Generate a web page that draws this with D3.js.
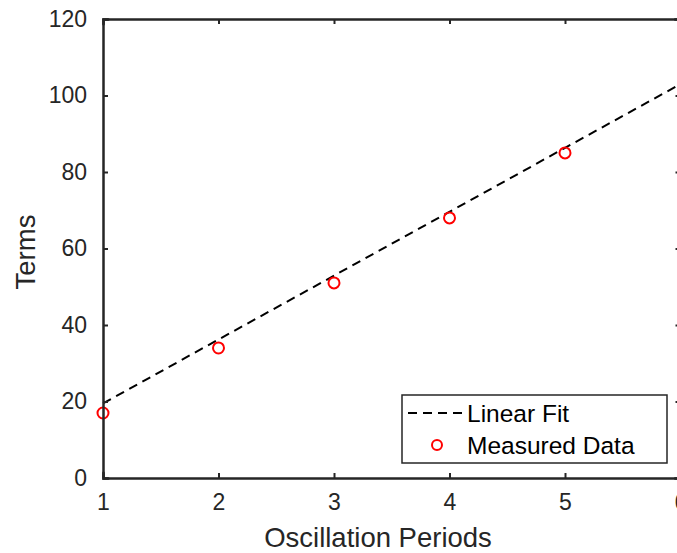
<!DOCTYPE html>
<html>
<head>
<meta charset="utf-8">
<script src="https://cdn.jsdelivr.net/npm/d3@7"></script>
<style>
  body { margin: 0; background: #fff; }
  text { font-family: "Liberation Sans", Arial, sans-serif; }
</style>
</head>
<body>
<svg id="chart" width="677" height="553"></svg>
<script>

// data
const periods = [ 1, 2, 3, 4, 5 ];
const terms = [ 17, 34, 51, 68, 85 ];
const fitX = [ 1, 6 ];
const fitY = [ 19.5, 103 ];
const xTicks = [ 1, 2, 3, 4, 5, 6 ];
const yTicks = [ 0, 20, 40, 60, 80, 100, 120 ];

const svg = d3.select( "#chart" );
const axisColor = "#262626";

const x = d3.scaleLinear().domain( [ 1, 6 ] ).range( [ 103, 680.5 ] );
const y = d3.scaleLinear().domain( [ 0, 120 ] ).range( [ 478, 19 ] );

// Linear fit
svg.append( "path" )
  .datum( fitX.map( ( d, i ) => [ d, fitY[ i ] ] ) )
  .attr( "d", d3.line().x( d => x( d[ 0 ] ) ).y( d => y( d[ 1 ] ) ) )
  .attr( "fill", "none" )
  .attr( "stroke", "#000" )
  .attr( "stroke-width", 2 )
  .attr( "stroke-dasharray", "9,6" );

// Measured data
svg.selectAll( "circle.pt" )
  .data( periods )
  .enter().append( "circle" )
    .attr( "class", "pt" )
    .attr( "cx", d => x( d ) )
    .attr( "cy", ( d, i ) => y( terms[ i ] ) )
    .attr( "r", 5.5 )
    .attr( "fill", "none" )
    .attr( "stroke", "#ff0000" )
    .attr( "stroke-width", 2 );

// Axes (box style, ticks inward)
const xAxis = svg.append( "g" )
  .attr( "transform", "translate(0,478)" )
  .call( d3.axisBottom( x ).tickValues( xTicks ).tickSize( -5 ).tickPadding( 16 ).tickFormat( d3.format( "d" ) ) );

const xTop = svg.append( "g" )
  .attr( "transform", "translate(0,19)" )
  .call( d3.axisTop( x ).tickValues( xTicks ).tickSize( -5 ).tickFormat( "" ) );

const yAxis = svg.append( "g" )
  .attr( "transform", "translate(103,0)" )
  .call( d3.axisLeft( y ).tickValues( yTicks ).tickSize( -5 ).tickPadding( 16 ).tickFormat( d3.format( "d" ) ) );

const yRight = svg.append( "g" )
  .attr( "transform", "translate(680.5,0)" )
  .call( d3.axisRight( y ).tickValues( yTicks ).tickSize( -5 ).tickFormat( "" ) );

[ xAxis, xTop, yAxis, yRight ].forEach( g => {
  g.select( ".domain" )
    .attr( "stroke", axisColor )
    .attr( "stroke-width", 2.5 )
    .attr( "stroke-linecap", "square" );
  g.selectAll( ".tick line" )
    .attr( "stroke", axisColor )
    .attr( "stroke-width", 2 );
  g.selectAll( ".tick text" )
    .attr( "fill", axisColor )
    .style( "font-size", "23px" );
} );

// Axis labels
svg.append( "text" )
  .attr( "x", 378 )
  .attr( "y", 547 )
  .attr( "text-anchor", "middle" )
  .attr( "fill", axisColor )
  .style( "font-size", "27.5px" )
  .text( "Oscillation Periods" );

svg.append( "text" )
  .attr( "transform", "translate(35,252) rotate(-90)" )
  .attr( "text-anchor", "middle" )
  .attr( "fill", axisColor )
  .style( "font-size", "27.5px" )
  .text( "Terms" );

// Legend
const legend = svg.append( "g" );

legend.append( "rect" )
  .attr( "x", 402 )
  .attr( "y", 395 )
  .attr( "width", 265 )
  .attr( "height", 68 )
  .attr( "fill", "#fff" )
  .attr( "stroke", axisColor )
  .attr( "stroke-width", 1.5 );

legend.append( "line" )
  .attr( "x1", 408 ).attr( "x2", 463 )
  .attr( "y1", 413 ).attr( "y2", 413 )
  .attr( "stroke", "#000" )
  .attr( "stroke-width", 2 )
  .attr( "stroke-dasharray", "9,6" );

legend.append( "circle" )
  .attr( "cx", 437 )
  .attr( "cy", 445 )
  .attr( "r", 5 )
  .attr( "fill", "none" )
  .attr( "stroke", "#ff0000" )
  .attr( "stroke-width", 2 );

legend.selectAll( "text" )
  .data( [ "Linear Fit", "Measured Data" ] )
  .enter().append( "text" )
    .attr( "x", 467 )
    .attr( "y", ( d, i ) => 422 + i * 32 )
    .attr( "fill", "#000" )
    .style( "font-size", "24.5px" )
    .text( d => d );

</script>
</body>
</html>
